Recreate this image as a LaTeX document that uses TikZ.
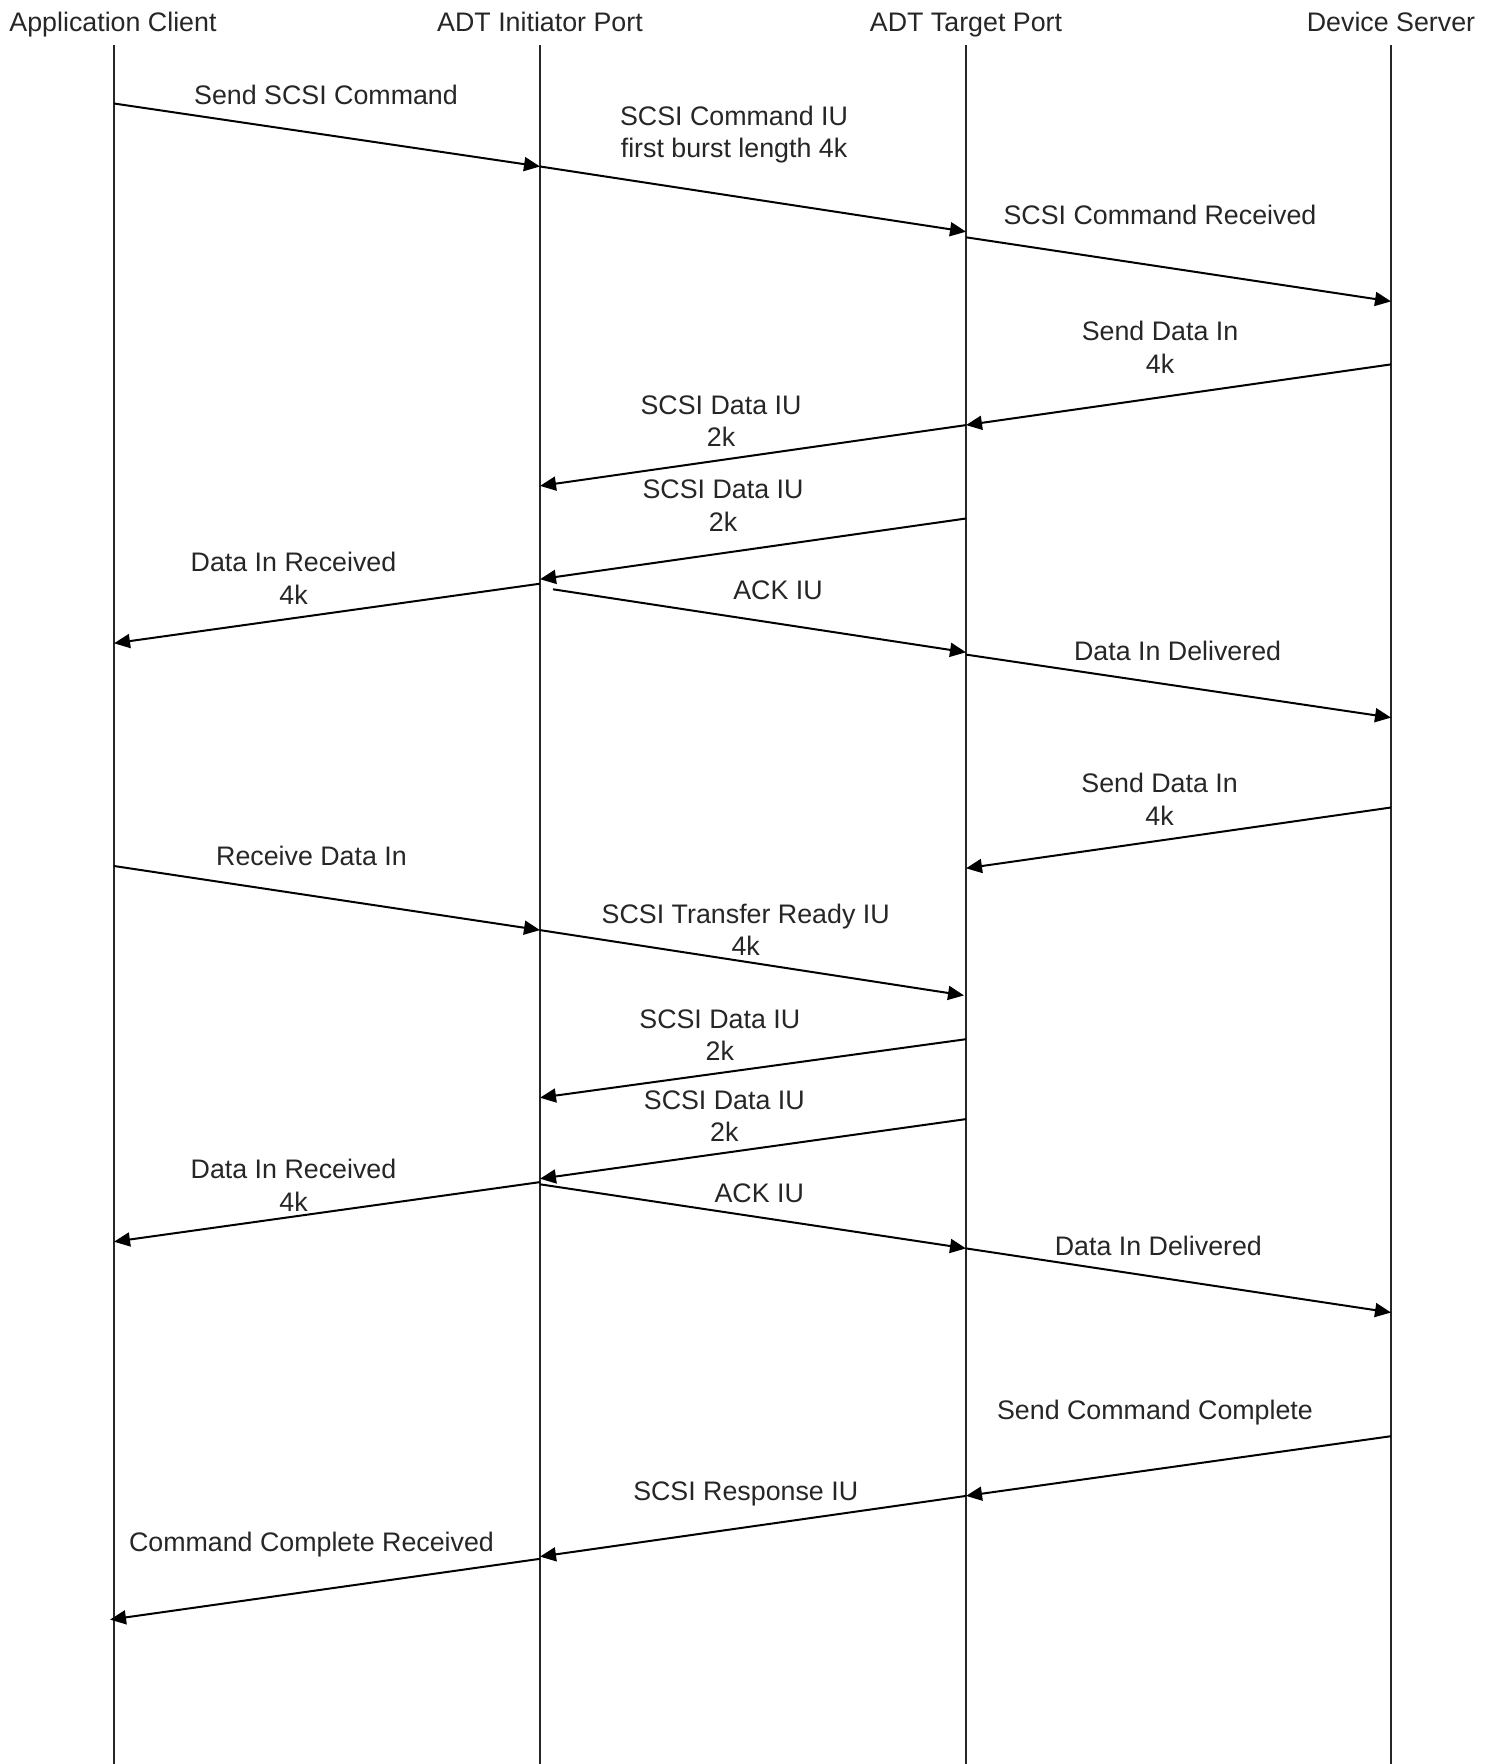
\documentclass[tikz,border=0pt]{standalone}
\usepackage{fontspec}
\setmainfont{Liberation Sans}
\usetikzlibrary{arrows.meta}
\begin{document}
\begin{tikzpicture}[x=0.5pt,y=-0.5pt,
  lifeline/.style={line width=0.9pt, black!85},
  msg/.style={line width=1pt, -{Triangle[length=8pt,width=7pt]}},
  lbl/.style={font=\fontsize{13.4}{16.3}\selectfont, text=black!85, align=center, inner sep=0pt},
  head/.style={lbl, anchor=base}]
\useasboundingbox (0,0) rectangle (1497,1764);
% headers
\node[head] (hAC) at (113,32) {Application Client};
\node[head] (hI) at (540,32) {ADT Initiator Port};
\node[head] (hT) at (966,32) {ADT Target Port};
\node[head] (hD) at (1391,32) {Device Server};
% lifelines
\coordinate (AC) at (114,45);  \coordinate (ACb) at (114,1764);
\coordinate (I) at (540,45);   \coordinate (Ib) at (540,1764);
\coordinate (T) at (966,45);   \coordinate (Tb) at (966,1764);
\coordinate (D) at (1391,45);  \coordinate (Db) at (1391,1764);
\draw[lifeline] (AC) -- (ACb);
\draw[lifeline] (I) -- (Ib);
\draw[lifeline] (T) -- (Tb);
\draw[lifeline] (D) -- (Db);
% message endpoints
\coordinate (m1s) at (114,103.5);  \coordinate (m1e) at (540,166.5);
\coordinate (m2s) at (540,166.5);  \coordinate (m2e) at (966,231.7);
\coordinate (m3s) at (966,237.3);  \coordinate (m3e) at (1391,301.4);
\coordinate (m4s) at (1391,364.4); \coordinate (m4e) at (966,425.1);
\coordinate (m5s) at (966,425.1);  \coordinate (m5e) at (540,485.9);
\coordinate (m6s) at (966,518.5);  \coordinate (m6e) at (540,579.2);
\coordinate (m7s) at (540,583.7);  \coordinate (m7e) at (114,643.3);
\coordinate (m8s) at (553,589.3);  \coordinate (m8e) at (966,652.3);
\coordinate (m9s) at (966,654.6);  \coordinate (m9e) at (1391,717.6);
\coordinate (m10s) at (1391,807.5); \coordinate (m10e) at (966,868.3);
\coordinate (m11s) at (114,866);    \coordinate (m11e) at (540,930.1);
\coordinate (m12s) at (540,930.1);  \coordinate (m12e) at (964,995.4);
\coordinate (m13s) at (966,1039.2); \coordinate (m13e) at (540,1097.7);
\coordinate (m14s) at (966,1119.1); \coordinate (m14e) at (540,1178.7);
\coordinate (m15s) at (540,1182.1); \coordinate (m15e) at (114,1241.7);
\coordinate (m16s) at (540,1184.3); \coordinate (m16e) at (966,1248.4);
\coordinate (m17s) at (966,1248.4); \coordinate (m17e) at (1391,1312.5);
\coordinate (m18s) at (1391,1436.2); \coordinate (m18e) at (966,1495.9);
\coordinate (m19s) at (966,1495.9); \coordinate (m19e) at (540,1556.6);
\coordinate (m20s) at (540,1558.8); \coordinate (m20e) at (110,1619.6);
% messages
\foreach \i in {1,...,20} {\draw[msg] (m\i s) -- (m\i e);}
% labels
\node[lbl] (l1) at (326,94.5) {Send SCSI Command};
\node[lbl] (l2) at (734,134.4) {SCSI Command IU\\first burst length 4k};
\node[lbl] (l3) at (1160,214.8) {SCSI Command Received};
\node[lbl] (l4) at (1160,347.5) {Send Data In\\4k};
\node[lbl] (l5) at (721,421.2) {SCSI Data IU\\2k};
\node[lbl] (l6) at (723,505.5) {SCSI Data IU\\2k};
\node[lbl] (l7) at (293.5,578.1) {Data In Received\\4k};
\node[lbl] (l8) at (778,590.5) {ACK IU};
\node[lbl] (l9) at (1177.6,651.2) {Data In Delivered};
\node[lbl] (l10) at (1159.6,799.1) {Send Data In\\4k};
\node[lbl] (l11) at (311.5,855.9) {Receive Data In};
\node[lbl] (l12) at (745.7,929.6) {SCSI Transfer Ready IU\\4k};
\node[lbl] (l13) at (719.8,1035.3) {SCSI Data IU\\2k};
\node[lbl] (l14) at (724.3,1116.3) {SCSI Data IU\\2k};
\node[lbl] (l15) at (293.5,1185.5) {Data In Received\\4k};
\node[lbl] (l16) at (759.2,1193.3) {ACK IU};
\node[lbl] (l17) at (1158.4,1246.2) {Data In Delivered};
\node[lbl] (l18) at (1155,1412.6) {Send Command Complete};
\node[lbl] (l19) at (745.7,1493.6) {SCSI Response IU};
\node[lbl] (l20) at (311.5,1544.2) {Command Complete Received};
\end{tikzpicture}
\end{document}
